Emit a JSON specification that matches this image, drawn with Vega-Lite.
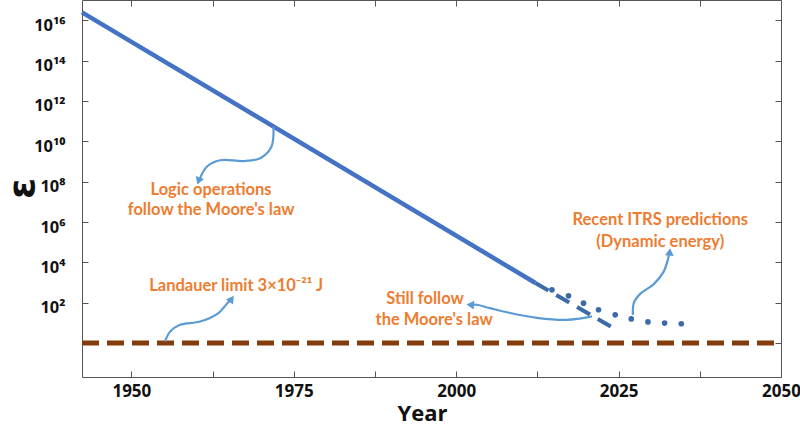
{
  "$schema": "https://vega.github.io/schema/vega-lite/v6.json",
  "width": 699,
  "height": 377,
  "autosize": "none",
  "padding": {"left": 82, "top": 0, "right": 19, "bottom": 48},
  "background": "white",
  "config": {
    "view": {"stroke": null},
    "axis": {"grid": false, "domainColor": "#555", "tickColor": "#555", "tickSize": -6, "labelFont": "Open Sans", "labelFontWeight": "bold", "labelColor": "#111", "titleColor": "#111", "labelFlush": false, "labelOverlap": false}
  },
  "encoding": {
    "x": {"field": "year", "type": "quantitative", "scale": {"domain": [1942.4, 2050], "nice": false, "zero": false}, "axis": null},
    "y": {"field": "value", "type": "quantitative", "scale": {"type": "log", "domain": [0.0209, 1e17], "nice": false}, "axis": null}
  },
  "layer": [
    {
      "data": {"values": [{"year": 1942.4, "value": 1}, {"year": 2050, "value": 1}]},
      "mark": {"type": "line", "color": "#843c0c", "strokeWidth": 5, "strokeDash": [17, 8]},
      "encoding": {
        "x": {"field": "year", "type": "quantitative", "scale": {"domain": [1942.4, 2050], "nice": false, "zero": false},
          "axis": {"orient": "bottom", "values": [1950, 1962.5, 1975, 1987.5, 2000, 2012.5, 2025, 2037.5, 2050], "format": "d", "labelExpr": "datum.value % 25 == 0 ? datum.label : ''", "labelFontSize": 17, "labelPadding": 12, "title": "Year", "titleFont": "Open Sans", "titleFontWeight": "bold", "titleFontSize": 22, "titleX": 340, "titleY": 43, "titleBaseline": "alphabetic"}},
        "y": {"field": "value", "type": "quantitative", "scale": {"type": "log", "domain": [0.0209, 1e17], "nice": false},
          "axis": {"orient": "left", "values": [1, 1e2, 1e4, 1e6, 1e8, 1e10, 1e12, 1e14, 1e16], "labelExpr": "datum.value < 10 ? '' : '10' + ['','','²','','⁴','','⁶','','⁸','','¹⁰','','¹²','','¹⁴','','¹⁶'][round(log(datum.value) / LN10)]", "labelFontSize": 16.5, "labelPadding": 23, "labelOffset": 5, "title": "ε", "titleFont": "DejaVu Sans", "titleFontWeight": "bold", "titleFontSize": 38, "titleAngle": -90, "titleX": -49, "titleY": 188, "titleAlign": "center", "titleBaseline": "alphabetic"}}
      }
    },
    {
      "data": {"values": [{"year": 1942.4, "value": 2.45e16}, {"year": 2012.2, "value": 955}]},
      "mark": {"type": "line", "color": "#4472c4", "strokeWidth": 4.5},
      "encoding": {
        "x": {"field": "year", "type": "quantitative", "scale": {"domain": [1942.4, 2050], "nice": false, "zero": false},
          "axis": {"orient": "top", "values": [1950, 1962.5, 1975, 1987.5, 2000, 2012.5, 2025, 2037.5, 2050], "labels": false, "title": null}},
        "y": {"field": "value", "type": "quantitative", "scale": {"type": "log", "domain": [0.0209, 1e17], "nice": false},
          "axis": {"orient": "right", "values": [1, 1e2, 1e4, 1e6, 1e8, 1e10, 1e12, 1e14, 1e16], "labels": false, "title": null}}
      }
    },
    {
      "data": {"values": [{"year": 2012.2, "value": 955}, {"year": 2024.9, "value": 4.17}]},
      "mark": {"type": "line", "color": "#3d6ba8", "strokeWidth": 4, "strokeDash": [15, 9]}
    },
    {
      "data": {"values": [
        {"year": 2014.74, "value": 436.5},
        {"year": 2017.29, "value": 218.8},
        {"year": 2019.60, "value": 95.5},
        {"year": 2021.91, "value": 44.7},
        {"year": 2024.48, "value": 25.1},
        {"year": 2026.95, "value": 15.8},
        {"year": 2029.52, "value": 11.2},
        {"year": 2032.08, "value": 9.77},
        {"year": 2034.65, "value": 9.12}
      ]},
      "mark": {"type": "point", "filled": true, "color": "#3d6ba8", "size": 32, "opacity": 1}
    },
    {
      "data": {"values": [
        {"arrow": "a1", "i": 1, "year": 1971.87, "value": 5.25e10},
        {"arrow": "a1", "i": 2, "year": 1971.56, "value": 5.4e9},
        {"arrow": "a1", "i": 3, "year": 1969.82, "value": 1.45e9},
        {"arrow": "a1", "i": 4, "year": 1967.25, "value": 1.05e9},
        {"arrow": "a1", "i": 5, "year": 1963.66, "value": 1.15e9},
        {"arrow": "a1", "i": 6, "year": 1961.61, "value": 5.5e8},
        {"arrow": "a1", "i": 7, "year": 1960.58, "value": 1.5e8},
        {"arrow": "a2", "i": 1, "year": 1955.19, "value": 1.2},
        {"arrow": "a2", "i": 2, "year": 1955.96, "value": 3.7},
        {"arrow": "a2", "i": 3, "year": 1957.50, "value": 8.1},
        {"arrow": "a2", "i": 4, "year": 1960.58, "value": 11.7},
        {"arrow": "a2", "i": 5, "year": 1963.40, "value": 30.9},
        {"arrow": "a2", "i": 6, "year": 1964.78, "value": 95.5},
        {"arrow": "a2", "i": 7, "year": 1965.28, "value": 138},
        {"arrow": "a3", "i": 1, "year": 2020.90, "value": 20.9},
        {"arrow": "a3", "i": 2, "year": 2017.05, "value": 14.1},
        {"arrow": "a3", "i": 3, "year": 2012.43, "value": 17.8},
        {"arrow": "a3", "i": 4, "year": 2008.31, "value": 30.9},
        {"arrow": "a3", "i": 5, "year": 2005.24, "value": 53.7},
        {"arrow": "a3", "i": 6, "year": 2003.19, "value": 79.4},
        {"arrow": "a3", "i": 7, "year": 2002.47, "value": 79.4},
        {"arrow": "a4", "i": 1, "year": 2027.21, "value": 25.1},
        {"arrow": "a4", "i": 2, "year": 2027.33, "value": 95.5},
        {"arrow": "a4", "i": 3, "year": 2028.33, "value": 275},
        {"arrow": "a4", "i": 4, "year": 2030.38, "value": 813},
        {"arrow": "a4", "i": 5, "year": 2031.92, "value": 3390},
        {"arrow": "a4", "i": 6, "year": 2032.57, "value": 13200},
        {"arrow": "a4", "i": 7, "year": 2032.80, "value": 29500}
      ]},
      "mark": {"type": "line", "color": "#5b9bd5", "strokeWidth": 2.2, "interpolate": "catmull-rom"},
      "encoding": {
        "detail": {"field": "arrow"},
        "order": {"field": "i", "type": "quantitative"}
      }
    },
    {
      "data": {"values": [{"year": 1960.35, "value": 1.07e8}]},
      "mark": {"type": "point", "shape": "triangle-up", "filled": true, "color": "#5b9bd5", "size": 75, "opacity": 1, "angle": 200}
    },
    {
      "data": {"values": [{"year": 1965.43, "value": 155}]},
      "mark": {"type": "point", "shape": "triangle-up", "filled": true, "color": "#5b9bd5", "size": 75, "opacity": 1, "angle": 35}
    },
    {
      "data": {"values": [{"year": 2002.16, "value": 79.4}]},
      "mark": {"type": "point", "shape": "triangle-up", "filled": true, "color": "#5b9bd5", "size": 75, "opacity": 1, "angle": 275}
    },
    {
      "data": {"values": [{"year": 2032.87, "value": 33100}]},
      "mark": {"type": "point", "shape": "triangle-up", "filled": true, "color": "#5b9bd5", "size": 75, "opacity": 1, "angle": 5}
    },
    {
      "data": {"values": [
        {"label": "Logic operations", "year": 1962.27, "value": 2.19e7},
        {"label": "follow the Moore's law", "year": 1962.27, "value": 2.24e6},
        {"label": "Landauer limit 3×10⁻²¹ J", "year": 1966.12, "value": 398},
        {"label": "Still follow", "year": 1995.2, "value": 89},
        {"label": "the Moore's law", "year": 1996.6, "value": 8.05},
        {"label": "Recent ITRS predictions", "year": 2031.41, "value": 7.2e5},
        {"label": "(Dynamic energy)", "year": 2031.41, "value": 6.0e4}
      ]},
      "mark": {"type": "text", "font": "Lato", "fontWeight": "bold", "fontSize": 16.5, "color": "#ed7d31", "align": "center", "baseline": "alphabetic"},
      "encoding": {"text": {"field": "label"}}
    }
  ],
  "resolve": {"axis": {"x": "independent", "y": "independent"}}
}
